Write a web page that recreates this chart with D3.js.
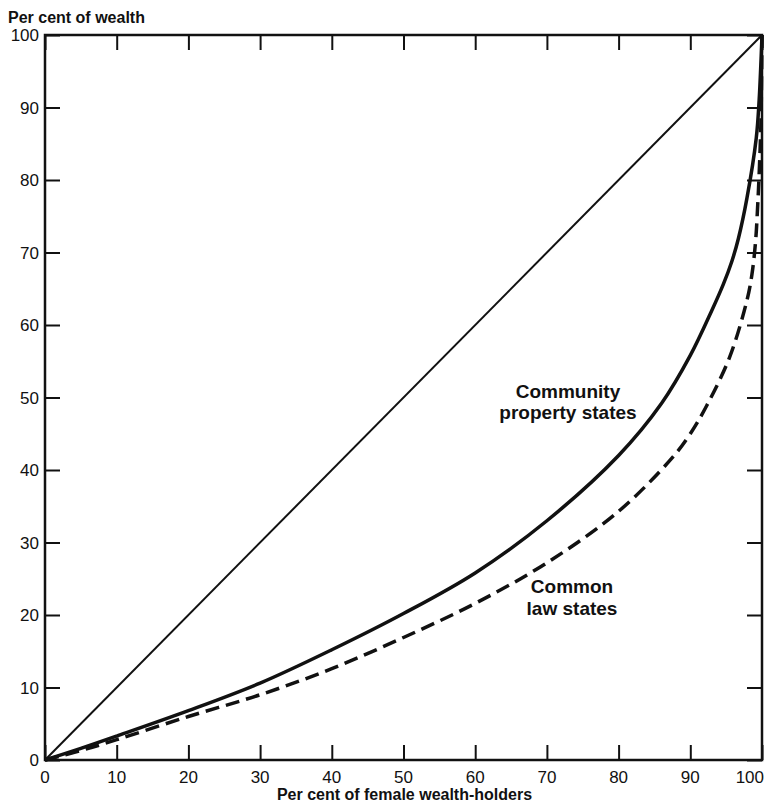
<!DOCTYPE html>
<html>
<head>
<meta charset="utf-8">
<script src="https://cdn.jsdelivr.net/npm/d3@7"></script>
<style>
  html, body { margin: 0; padding: 0; background: #fff; }
  svg { display: block; }
  text { font-family: "Liberation Sans", Arial, sans-serif; fill: #111; }
</style>
</head>
<body>
<svg id="chart" width="772" height="802"></svg>
<script>
// ---- data ----
const xTicks = [0, 10, 20, 30, 40, 50, 60, 70, 80, 90, 100];
const yTicks = [0, 10, 20, 30, 40, 50, 60, 70, 80, 90, 100];

const equalityX = [0, 100];
const equalityY = [0, 100];

const communityX = [0, 5, 10, 20, 30, 40, 50, 60, 70, 80, 86, 90, 93, 94.6, 95.8, 96.7, 97.9, 99.2, 99.6, 100];
const communityY = [0, 1.6, 3.3, 6.8, 10.6, 15.2, 20.2, 25.8, 33.0, 42.0, 49.2, 55.8, 62.0, 65.6, 68.8, 71.9, 77.5, 85.8, 91.0, 100];

const commonX = [0, 5, 10, 20, 30, 40, 50, 60, 70, 80, 87.4, 90, 92.3, 95.5, 97.9, 98.6, 99.1, 99.4, 99.65, 99.85, 100];
const commonY = [0, 1.3, 2.8, 6.0, 9.0, 12.6, 16.9, 21.6, 27.2, 34.3, 41.6, 45.0, 48.9, 55.6, 63.4, 67.0, 71.5, 76.5, 82.0, 88.0, 100];

const yTitle = "Per cent of wealth";
const xTitle = "Per cent of female wealth-holders";
const communityLabel = ["Community", "property states"];
const commonLabel = ["Common", "law states"];

// ---- layout ----
const svg = d3.select("#chart");
const L = 45, R = 762, T = 35, B = 760;
const x = d3.scaleLinear().domain([0, 100]).range([L, R]);
const y = d3.scaleLinear().domain([0, 100]).range([B, T]);
const tickLen = 15;

// frame
svg.append("rect")
  .attr("x", L).attr("y", T).attr("width", R - L).attr("height", B - T)
  .attr("fill", "none").attr("stroke", "#111").attr("stroke-width", 2.5);

// axes with inward ticks
const gBottom = svg.append("g").attr("transform", `translate(0,${B})`)
  .call(d3.axisTop(x).tickValues(xTicks).tickSize(tickLen).tickFormat(""));
const gTop = svg.append("g").attr("transform", `translate(0,${T})`)
  .call(d3.axisBottom(x).tickValues(xTicks).tickSize(tickLen).tickFormat(""));
const gLeft = svg.append("g").attr("transform", `translate(${L},0)`)
  .call(d3.axisRight(y).tickValues(yTicks).tickSize(tickLen).tickFormat(""));
const gRight = svg.append("g").attr("transform", `translate(${R},0)`)
  .call(d3.axisLeft(y).tickValues(yTicks).tickSize(tickLen).tickFormat(""));
[gBottom, gTop, gLeft, gRight].forEach(g => {
  g.select(".domain").remove();
  g.selectAll(".tick line").attr("stroke", "#111").attr("stroke-width", 2);
});

// tick labels
svg.append("g").selectAll("text").data(xTicks).join("text")
  .attr("x", d => x(d) + (d === 100 ? 2 : 0))
  .attr("y", 783)
  .attr("text-anchor", d => d === 100 ? "end" : "middle")
  .attr("font-size", 17)
  .text(d => d);
svg.append("g").selectAll("text").data(yTicks).join("text")
  .attr("x", 39)
  .attr("y", d => y(d) + 6)
  .attr("text-anchor", "end")
  .attr("font-size", 17)
  .text(d => d);

// titles
svg.append("text").attr("x", 8).attr("y", 23)
  .attr("font-size", 16).attr("font-weight", "bold").text(yTitle);
svg.append("text").attr("x", (L + R) / 2 + 1).attr("y", 800)
  .attr("text-anchor", "middle")
  .attr("font-size", 16).attr("font-weight", "bold").text(xTitle);

// lines
const line = d3.line().x(d => x(d[0])).y(d => y(d[1])).curve(d3.curveCatmullRom.alpha(0.5));

svg.append("path")
  .datum(d3.zip(equalityX, equalityY))
  .attr("d", d3.line().x(d => x(d[0])).y(d => y(d[1])))
  .attr("fill", "none").attr("stroke", "#111").attr("stroke-width", 2);

svg.append("path")
  .datum(d3.zip(communityX, communityY))
  .attr("d", line)
  .attr("fill", "none").attr("stroke", "#111").attr("stroke-width", 3.5);

svg.append("path")
  .datum(d3.zip(commonX, commonY))
  .attr("d", line)
  .attr("fill", "none").attr("stroke", "#111").attr("stroke-width", 3.5)
  .attr("stroke-dasharray", "14,7");

// labels
const lab1 = svg.append("text").attr("text-anchor", "middle")
  .attr("font-size", 19).attr("font-weight", "bold");
lab1.append("tspan").attr("x", 568).attr("y", 398).text(communityLabel[0]);
lab1.append("tspan").attr("x", 568).attr("y", 419).text(communityLabel[1]);

const lab2 = svg.append("text").attr("text-anchor", "middle")
  .attr("font-size", 19).attr("font-weight", "bold");
lab2.append("tspan").attr("x", 572).attr("y", 593).text(commonLabel[0]);
lab2.append("tspan").attr("x", 572).attr("y", 615).text(commonLabel[1]);
</script>
</body>
</html>
